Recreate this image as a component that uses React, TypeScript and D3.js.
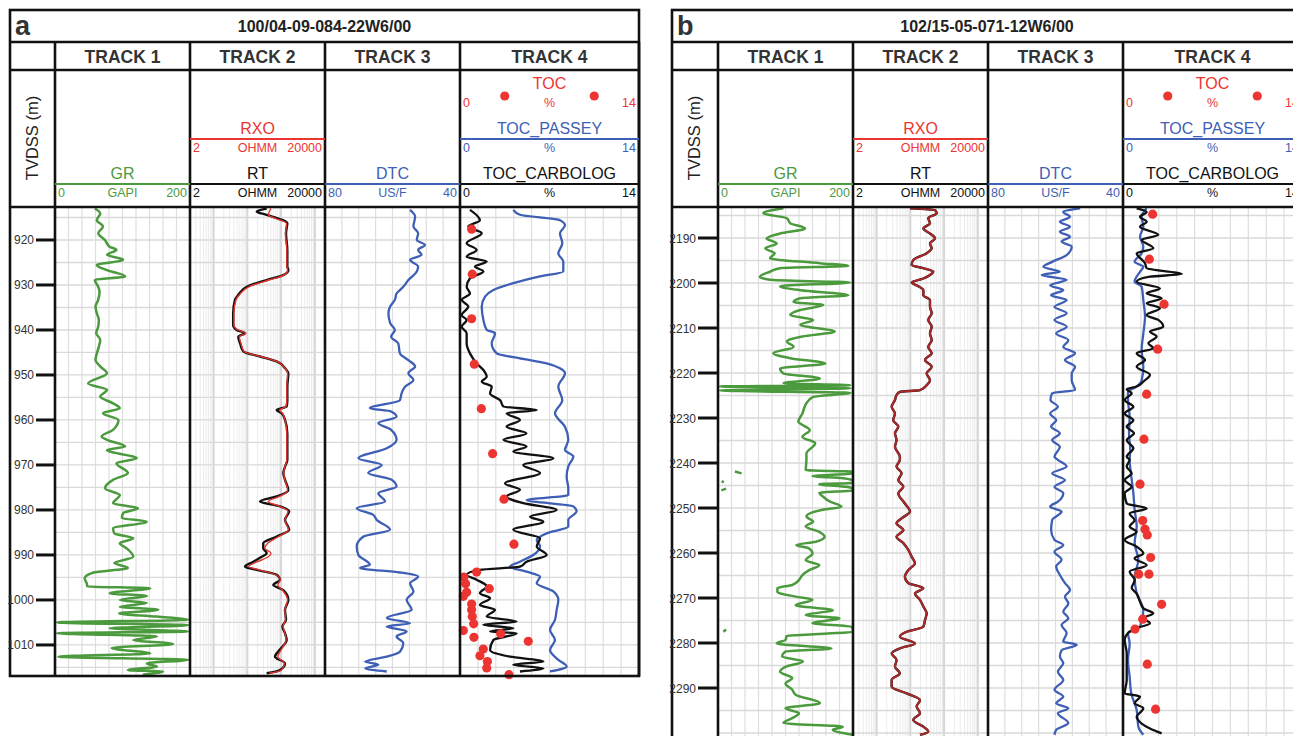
import React, { useEffect, useRef } from "react";
import * as d3 from "d3";

type Pt = [number, number];

const TRACK_NAMES = ["TRACK 1", "TRACK 2", "TRACK 3", "TRACK 4"];
const DEPTH_TICKS_A = [920, 930, 940, 950, 960, 970, 980, 990, 1000, 1010];
const DEPTH_TICKS_B = [2190, 2200, 2210, 2220, 2230, 2240, 2250, 2260, 2270, 2280, 2290];

// ---- well a : 100/04-09-084-22W6/00 ----  [depth, value]
const GR_A: Pt[] = [
  [913.0, 59], [914.1, 67], [915.6, 62], [917.0, 71], [918.5, 64], [920.0, 74], [921.5, 81], [922.2, 91],
  [923.3, 77], [924.4, 101], [925.6, 62], [926.7, 77], [928.1, 104], [928.9, 59], [930.4, 64], [931.5, 66],
  [933.3, 64], [934.8, 60], [936.3, 62], [937.8, 65], [939.3, 64], [940.7, 61], [942.2, 67], [943.7, 65],
  [945.2, 62], [946.7, 60], [948.1, 67], [949.6, 77], [951.9, 49], [953.3, 77], [954.8, 67], [956.3, 86],
  [957.4, 96], [958.5, 71], [960.0, 94], [962.2, 86], [963.7, 69], [964.4, 77], [965.9, 104], [966.7, 77],
  [968.5, 121], [969.6, 91], [971.8, 108], [973.3, 86], [975.2, 74], [976.7, 96], [978.5, 86], [979.6, 123],
  [980.7, 101], [981.8, 99], [982.6, 136], [984.1, 86], [985.2, 88], [986.3, 116], [987.4, 96], [988.5, 106],
  [990.4, 116], [991.8, 88], [992.9, 108], [993.9, 57], [995.2, 44], [996.3, 47], [997.0, 48], [997.4, 141],
  [998.5, 81], [999.1, 136], [1000.0, 96], [1000.7, 136], [1001.5, 96], [1002.2, 153], [1003.0, 95],
  [1003.7, 151], [1004.4, 197], [1005.0, 3], [1005.6, 197], [1006.3, 81], [1007.0, 197], [1007.4, 3],
  [1008.1, 151], [1008.9, 116], [1009.8, 175], [1010.7, 84], [1011.9, 141], [1012.6, 5], [1013.3, 197],
  [1014.1, 136], [1014.8, 151], [1015.6, 108], [1015.9, 160], [1016.6, 130],
];
const RT_A: Pt[] = [
  [913.0, 374], [913.7, 189], [914.4, 374], [916.3, 1530], [918.5, 1397], [922.2, 1530], [925.9, 1530],
  [926.7, 1640], [927.8, 1164], [928.9, 374], [930.4, 96], [932.2, 54], [933.3, 43], [936.3, 38], [938.9, 38],
  [940.0, 48], [940.7, 85], [941.5, 54], [943.0, 61], [944.8, 76], [945.9, 237], [947.0, 740], [948.5, 1306],
  [949.6, 1640], [952.6, 1530], [955.6, 1530], [957.0, 1460], [957.8, 740], [958.5, 1040], [960.0, 1306],
  [963.0, 1530], [968.9, 1530], [970.4, 1306], [971.8, 1164], [973.3, 1306], [975.6, 1640], [977.0, 740],
  [978.1, 237], [979.2, 928], [980.3, 1740], [982.2, 1306], [984.4, 1740], [985.9, 740], [987.4, 296],
  [988.5, 296], [989.6, 374], [990.4, 267], [991.5, 150], [992.6, 85], [993.3, 189], [994.4, 740],
  [995.5, 928], [996.7, 588], [997.8, 1164], [1000.0, 1640], [1002.2, 1306], [1004.4, 1397], [1005.9, 1100],
  [1007.4, 1306], [1008.9, 1460], [1011.1, 900], [1012.6, 660], [1014.1, 1306], [1015.6, 900], [1016.3, 374],
];
const RXO_A: Pt[] = [
  [913.0, 500], [914.4, 420], [916.3, 1450], [918.5, 1350], [922.2, 1480], [925.9, 1480], [926.7, 1560],
  [927.8, 1200], [928.9, 430], [930.4, 110], [932.2, 58], [933.3, 46], [936.3, 40], [938.9, 40], [940.0, 52],
  [940.7, 90], [941.5, 58], [943.0, 65], [944.8, 80], [945.9, 250], [947.0, 760], [948.5, 1300], [949.6, 1560],
  [952.6, 1480], [955.6, 1480], [957.0, 1400], [957.8, 900], [958.5, 1100], [960.0, 1300], [963.0, 1480],
  [968.9, 1480], [970.4, 1300], [971.8, 1200], [973.3, 1300], [975.6, 1560], [977.0, 900], [978.1, 420],
  [979.2, 900], [980.3, 1600], [982.2, 1300], [984.4, 1650], [985.9, 850], [987.4, 400], [988.5, 330],
  [989.6, 500], [990.4, 420], [991.5, 200], [992.6, 110], [993.3, 220], [994.4, 700], [995.5, 950],
  [996.7, 800], [997.8, 1100], [1000.0, 1560], [1002.2, 1300], [1004.4, 1350], [1005.9, 1150], [1007.4, 1300],
  [1008.9, 1400], [1011.1, 1000], [1012.6, 800], [1014.1, 1250], [1015.6, 1000], [1016.3, 450],
];
const DTC_A: Pt[] = [
  [913.3, 54.8], [914.8, 53.3], [917.0, 53.8], [918.5, 52.4], [920.0, 52.8], [921.1, 50.4], [922.2, 52.4],
  [923.3, 51.4], [924.4, 54.8], [925.9, 52.4], [927.0, 52.8], [928.9, 55.3], [930.4, 56.8], [931.9, 58.8],
  [933.3, 59.3], [934.8, 60.7], [936.3, 61.2], [938.5, 60.7], [940.0, 59.3], [941.5, 60.4], [943.0, 58.3],
  [945.2, 57.8], [946.7, 55.3], [948.1, 53.3], [949.6, 55.3], [951.1, 53.8], [952.6, 56.3], [954.1, 57.3],
  [955.6, 57.8], [957.4, 66.7], [958.1, 60.4], [959.3, 58.8], [960.7, 64.2], [962.2, 60.4], [964.4, 58.8],
  [966.3, 61.7], [968.5, 70.1], [970.0, 63.2], [971.8, 67.2], [973.3, 60.2], [974.8, 58.8], [976.3, 64.2],
  [978.1, 62.2], [979.6, 70.6], [981.1, 65.7], [982.2, 64.7], [984.4, 60.7], [985.9, 68.6], [988.1, 70.6],
  [990.0, 70.1], [992.2, 66.7], [992.9, 69.6], [993.9, 57.8], [994.8, 52.4], [996.3, 54.8], [998.1, 53.8],
  [1000.0, 55.8], [1002.2, 54.3], [1004.0, 61.7], [1005.2, 54.8], [1005.9, 61.7], [1007.0, 55.8],
  [1008.1, 58.8], [1009.6, 56.8], [1011.5, 57.8], [1012.6, 61.7], [1013.7, 68.1], [1014.4, 64.2],
  [1015.2, 68.1], [1015.9, 61.7],
];
const TOCC_A: Pt[] = [
  [913.3, 0.78], [915.6, 1.56], [917.0, 0.65], [918.5, 1.7], [920.7, 0.52], [922.2, 1.3], [923.7, 0.52],
  [924.8, 2.09], [925.9, 1.17], [927.0, 1.83], [928.5, 0.78], [930.4, 0.52], [931.9, 0.78], [933.3, 0.13],
  [934.8, 0.65], [936.7, 0.13], [937.8, 0.52], [939.3, 0.13], [940.7, 0.52], [943.0, 0.52], [945.2, 0.78],
  [947.4, 1.3], [948.9, 1.83], [950.4, 2.09], [951.5, 1.7], [952.6, 2.48], [954.1, 2.35], [955.6, 3.13],
  [957.0, 3.39], [957.8, 6.0], [958.5, 3.65], [960.0, 4.69], [961.5, 3.65], [963.0, 5.2], [964.4, 3.4],
  [965.9, 5.21], [967.0, 4.17], [968.5, 7.3], [970.0, 4.95], [971.8, 6.26], [974.1, 3.52], [975.5, 4.69],
  [977.0, 3.65], [978.5, 4.95], [980.0, 7.56], [981.5, 5.47], [982.6, 6.52], [984.4, 4.17], [986.3, 6.26],
  [988.1, 6.0], [990.0, 6.78], [991.5, 5.21], [992.6, 4.69], [993.3, 1.56], [994.4, 0.52], [995.5, 1.3],
  [997.0, 2.09], [998.5, 1.56], [999.6, 2.35], [1001.1, 1.56], [1002.2, 2.74], [1003.7, 2.09], [1004.8, 4.43],
  [1005.5, 1.83], [1006.3, 4.17], [1007.0, 2.35], [1007.4, 4.43], [1008.9, 2.61], [1011.1, 2.35],
  [1012.6, 3.91], [1013.7, 6.52], [1014.4, 4.17], [1015.2, 6.52], [1015.9, 4.69],
];
const TOCP_A: Pt[] = [
  [913.3, 4.17], [914.4, 4.69], [915.6, 7.82], [916.7, 8.21], [918.5, 7.82], [920.7, 8.0], [923.0, 7.69],
  [924.8, 8.08], [927.0, 8.08], [928.1, 6.26], [929.6, 4.17], [931.1, 2.61], [932.6, 1.96], [934.8, 1.7],
  [937.8, 1.83], [940.0, 2.09], [940.7, 2.74], [943.0, 2.48], [945.2, 2.87], [946.3, 4.69], [947.4, 6.78],
  [948.5, 7.82], [949.6, 8.21], [952.6, 7.69], [955.6, 8.0], [958.5, 7.43], [961.5, 8.21], [964.4, 8.47],
  [966.7, 8.21], [968.1, 8.86], [970.3, 8.47], [972.6, 8.34], [975.2, 8.47], [976.7, 8.47], [977.8, 5.21],
  [979.2, 8.86], [980.3, 9.12], [982.2, 8.47], [983.7, 8.47], [985.2, 6.78], [986.7, 6.0], [988.1, 6.26],
  [990.0, 5.73], [991.5, 4.69], [992.6, 3.91], [993.7, 5.21], [994.8, 6.26], [996.3, 6.0], [998.1, 7.3],
  [1000.0, 7.69], [1002.2, 7.56], [1004.4, 7.43], [1006.7, 7.04], [1008.9, 7.43], [1011.1, 7.04],
  [1013.3, 7.69], [1014.8, 8.34], [1015.9, 7.04],
];
const TOC_A: Pt[] = [
  [917.6, 0.91], [927.6, 0.96], [937.5, 0.91], [947.6, 1.12], [957.5, 1.67], [967.5, 2.55], [977.6, 3.44],
  [987.6, 4.22], [993.8, 1.3], [994.9, 0.31], [996.4, 0.44], [997.5, 2.29], [998.3, 0.52], [999.2, 0.26],
  [1000.9, 0.91], [1002.2, 0.91], [1003.7, 0.96], [1005.3, 1.07], [1006.8, 0.26], [1007.5, 3.18],
  [1008.3, 1.09], [1009.2, 5.34], [1010.9, 1.82], [1012.4, 1.56], [1013.7, 2.14], [1015.1, 2.09], [1016.6, 3.83],
];

// ---- well b : 102/15-05-071-12W6/00 ----
const GR_B: Pt[] = [
  [2183.4, 97], [2184.5, 67], [2185.6, 102], [2186.7, 107], [2187.9, 129], [2189.0, 92], [2190.1, 72],
  [2191.2, 87], [2192.3, 70], [2193.4, 84], [2194.5, 77], [2195.6, 151], [2196.2, 193], [2196.7, 92],
  [2197.5, 77], [2198.6, 62], [2199.3, 77], [2199.9, 196], [2200.7, 92], [2201.6, 122], [2202.7, 193],
  [2203.4, 122], [2204.2, 112], [2204.9, 156], [2206.0, 122], [2207.1, 107], [2208.2, 141], [2209.3, 122],
  [2210.8, 173], [2211.9, 125], [2213.0, 102], [2214.2, 112], [2215.6, 82], [2216.7, 107], [2217.9, 159],
  [2219.0, 92], [2220.1, 97], [2221.2, 151], [2222.3, 97], [2222.7, 196], [2223.0, 3], [2223.4, 196],
  [2223.9, 3], [2224.4, 196], [2225.3, 141], [2226.7, 131], [2229.0, 125], [2230.8, 119], [2232.7, 136],
  [2234.2, 125], [2235.6, 144], [2237.9, 131], [2239.3, 131], [2241.6, 130], [2241.9, 225], [2242.3, 235],
  [2242.9, 140], [2243.4, 185], [2243.9, 208], [2244.4, 206], [2244.7, 150], [2245.3, 190], [2245.7, 212],
  [2246.1, 205], [2246.6, 150], [2247.5, 156], [2248.6, 166], [2249.7, 183], [2250.4, 155], [2251.9, 131],
  [2253.0, 141], [2254.1, 130], [2255.3, 150], [2256.4, 158], [2257.5, 145], [2258.2, 116], [2259.0, 135],
  [2260.1, 140], [2261.6, 130], [2262.7, 150], [2263.8, 135], [2264.9, 125], [2266.0, 120], [2267.1, 110],
  [2267.8, 88], [2268.6, 88], [2269.7, 115], [2270.4, 140], [2271.6, 115], [2272.7, 170], [2273.8, 130],
  [2274.5, 180], [2275.6, 140], [2276.4, 198], [2277.0, 212], [2277.5, 208], [2278.0, 150], [2278.4, 102],
  [2279.3, 100], [2280.1, 87], [2281.2, 168], [2281.9, 100], [2283.0, 95], [2284.1, 126], [2285.3, 100],
  [2286.4, 92], [2287.8, 110], [2289.0, 100], [2290.4, 110], [2291.5, 115], [2293.4, 151], [2294.5, 100],
  [2295.6, 120], [2296.7, 110], [2297.8, 97], [2298.6, 185], [2299.3, 170], [2300.4, 205],
];
const RT_B: Pt[] = [
  [2183.4, 98], [2183.8, 538], [2184.5, 604], [2185.6, 340], [2186.7, 382], [2187.9, 243], [2189.0, 382],
  [2190.1, 538], [2191.2, 382], [2192.3, 428], [2193.4, 305], [2194.9, 122], [2196.0, 109], [2196.7, 243],
  [2197.5, 480], [2198.2, 382], [2199.0, 243], [2199.9, 109], [2200.7, 172], [2201.6, 243], [2202.7, 243],
  [2203.8, 382], [2205.3, 382], [2206.7, 428], [2208.2, 340], [2209.7, 428], [2211.2, 382], [2212.7, 428],
  [2214.2, 340], [2215.6, 428], [2217.1, 272], [2218.6, 428], [2220.1, 305], [2221.6, 382], [2222.7, 305],
  [2223.8, 193], [2224.2, 49], [2224.9, 39], [2226.0, 35], [2227.5, 28], [2229.0, 35], [2230.5, 31],
  [2231.9, 44], [2233.4, 35], [2234.9, 39], [2236.4, 35], [2238.6, 49], [2239.3, 49], [2240.8, 39],
  [2242.3, 55], [2243.8, 44], [2245.3, 62], [2246.7, 44], [2249.0, 69], [2250.8, 98], [2252.3, 55],
  [2253.4, 39], [2254.9, 62], [2256.4, 39], [2257.8, 62], [2259.3, 87], [2260.8, 109], [2262.3, 137],
  [2263.8, 87], [2265.3, 69], [2266.7, 87], [2267.8, 243], [2269.0, 137], [2270.4, 193], [2271.9, 243],
  [2273.4, 305], [2274.9, 272], [2276.4, 243], [2277.5, 78], [2278.6, 49], [2280.1, 137], [2281.2, 49],
  [2282.3, 28], [2283.8, 39], [2285.3, 35], [2286.7, 49], [2288.2, 28], [2289.7, 28], [2291.2, 78],
  [2292.7, 193], [2294.1, 154], [2295.6, 193], [2297.1, 122], [2298.6, 243], [2299.7, 340], [2300.4, 193],
];
const DTC_B: Pt[] = [
  [2183.4, 52.7], [2184.2, 57.7], [2185.3, 55.7], [2186.4, 58.7], [2187.5, 55.7], [2188.6, 58.7],
  [2189.7, 55.7], [2190.8, 58.2], [2191.9, 55.2], [2193.8, 56.7], [2195.3, 61.0], [2196.4, 63.6],
  [2197.5, 58.7], [2198.2, 64.1], [2199.3, 56.7], [2200.5, 61.6], [2201.6, 57.7], [2202.7, 61.3],
  [2203.8, 56.7], [2205.3, 60.3], [2206.7, 56.7], [2208.2, 60.3], [2209.7, 56.7], [2211.2, 59.8],
  [2212.7, 56.2], [2214.2, 57.7], [2215.6, 54.2], [2217.1, 57.2], [2218.6, 54.2], [2220.1, 55.2],
  [2221.6, 55.2], [2223.8, 54.2], [2224.5, 61.0], [2226.0, 61.5], [2227.5, 59.3], [2229.0, 61.6],
  [2230.5, 59.8], [2231.9, 61.3], [2233.4, 58.7], [2234.9, 61.0], [2236.4, 58.7], [2238.6, 60.3],
  [2239.3, 59.3], [2240.8, 56.7], [2242.3, 61.0], [2243.8, 57.2], [2245.3, 60.3], [2246.7, 57.7],
  [2248.6, 59.3], [2249.7, 61.6], [2250.8, 58.2], [2252.7, 61.0], [2254.9, 61.3], [2257.1, 60.3],
  [2258.2, 57.7], [2259.7, 60.3], [2261.5, 58.2], [2263.0, 59.8], [2264.9, 58.7], [2266.7, 57.2],
  [2268.2, 55.7], [2269.7, 57.2], [2271.2, 56.2], [2273.0, 57.7], [2274.5, 56.2], [2276.0, 58.2],
  [2277.8, 56.7], [2279.7, 57.7], [2280.4, 53.7], [2281.6, 58.2], [2283.0, 58.7], [2284.5, 57.7],
  [2286.4, 59.3], [2288.2, 57.7], [2290.4, 60.3], [2291.9, 57.7], [2293.4, 59.8], [2294.5, 56.2],
  [2295.6, 59.3], [2297.8, 56.2], [2299.3, 59.8], [2300.4, 60.3],
];
const TOCC_B: Pt[] = [
  [2183.4, 1.07], [2184.2, 1.85], [2185.3, 1.33], [2186.4, 1.85], [2187.5, 1.33], [2189.3, 2.76],
  [2190.4, 1.46], [2192.3, 2.37], [2193.4, 1.07], [2195.6, 1.72], [2196.7, 1.85], [2198.0, 4.59],
  [2198.6, 2.11], [2199.7, 1.07], [2201.2, 2.89], [2202.3, 1.85], [2203.4, 3.02], [2204.5, 1.85],
  [2205.6, 2.89], [2207.1, 1.85], [2208.2, 2.76], [2209.7, 3.15], [2210.8, 2.11], [2211.9, 2.63],
  [2213.4, 1.98], [2214.5, 2.37], [2215.6, 1.07], [2217.1, 1.72], [2218.6, 1.07], [2220.4, 2.11],
  [2221.9, 1.59], [2223.0, 1.07], [2223.6, 0.29], [2224.5, 0.68], [2226.0, 0.13], [2227.5, 0.81],
  [2229.0, 0.13], [2230.5, 0.81], [2231.9, 0.29], [2233.4, 0.86], [2234.9, 0.29], [2236.7, 0.81],
  [2238.6, 0.29], [2239.3, 0.52], [2240.8, 0.29], [2242.3, 0.68], [2243.8, 0.13], [2245.3, 0.68],
  [2246.7, 0.13], [2249.0, 0.29], [2250.1, 1.85], [2251.2, 0.52], [2252.7, 0.91], [2254.1, 0.52],
  [2255.3, 1.07], [2257.1, 0.13], [2258.6, 1.07], [2260.1, 1.59], [2261.2, 0.91], [2262.7, 1.85],
  [2264.1, 0.52], [2266.0, 0.91], [2267.8, 0.68], [2269.0, 1.07], [2270.8, 1.33], [2272.3, 1.59],
  [2273.4, 2.37], [2274.5, 1.59], [2275.6, 2.11], [2276.7, 1.07], [2277.8, 0.39], [2279.3, 0.13],
  [2282.3, 0.29], [2285.3, 0.29], [2288.2, 0.29], [2291.2, 0.13], [2291.9, 1.33], [2293.4, 0.91],
  [2294.5, 1.59], [2296.4, 1.07], [2297.9, 1.46], [2299.0, 2.11], [2300.1, 3.02],
];
const TOCP_B: Pt[] = [
  [2183.4, 1.85], [2185.3, 1.46], [2187.5, 1.59], [2189.7, 1.33], [2191.9, 1.59], [2193.4, 1.46],
  [2195.3, 0.91], [2196.4, 1.59], [2197.5, 1.33], [2199.7, 0.91], [2200.8, 1.46], [2203.8, 1.59],
  [2207.5, 1.72], [2211.2, 1.59], [2214.9, 1.46], [2218.6, 1.59], [2221.6, 1.46], [2223.0, 1.07],
  [2224.2, 0.39], [2226.0, 0.39], [2229.7, 0.52], [2233.4, 0.47], [2237.1, 0.57], [2239.3, 0.52],
  [2243.0, 0.65], [2246.7, 0.81], [2250.4, 0.91], [2254.1, 1.07], [2257.8, 0.91], [2261.5, 1.2],
  [2265.3, 0.91], [2269.0, 1.07], [2272.7, 1.59], [2276.4, 1.33], [2277.8, 0.39], [2280.1, 0.52],
  [2283.8, 0.39], [2287.5, 0.52], [2291.2, 0.65], [2294.9, 1.07], [2298.6, 1.2], [2300.4, 1.59],
];
const TOC_B: Pt[] = [
  [2184.7, 2.32], [2194.7, 2.06], [2204.7, 3.21], [2214.7, 2.71], [2224.7, 1.85], [2234.7, 1.64],
  [2244.7, 1.33], [2252.8, 1.54], [2254.7, 1.72], [2256.0, 1.9], [2261.0, 2.16], [2264.7, 1.23],
  [2264.7, 2.03], [2271.4, 3.02], [2274.7, 1.54], [2276.9, 0.94], [2284.7, 1.9], [2294.7, 2.55],
];

const W = 1293;
const H = 736;
const FONT = "'Liberation Sans', Arial, Helvetica, sans-serif";
const GREEN = "#4c9a3e";
const BLUE = "#3e5fb5";
const RED = "#ec3531";

interface Panel {
  letter: string; title: string; x0: number; depthW: number; bottom: number;
  depth: [number, number]; ticks: number[];
  gr: Pt[]; rt: Pt[]; rxo: Pt[]; rxoColor: string; dtc: Pt[]; tocc: Pt[]; tocp: Pt[]; toc: Pt[];
}

const PANELS: Panel[] = [
  { letter: "a", title: "100/04-09-084-22W6/00", x0: 10, depthW: 45, bottom: 676, depth: [912.67, 1016.9],
    ticks: DEPTH_TICKS_A, gr: GR_A, rt: RT_A, rxo: RXO_A, rxoColor: "#e3342c", dtc: DTC_A, tocc: TOCC_A, tocp: TOCP_A, toc: TOC_A },
  { letter: "b", title: "102/15-05-071-12W6/00", x0: 672, depthW: 46, bottom: 760, depth: [2183.11, 2306],
    ticks: DEPTH_TICKS_B, gr: GR_B, rt: RT_B, rxo: RT_B, rxoColor: "#a9292b", dtc: DTC_B, tocc: TOCC_B, tocp: TOCP_B, toc: TOC_B },
];

function drawPanel(svg: d3.Selection<SVGSVGElement, unknown, null, undefined>, p: Panel) {
  const g = svg.append("g");
  const top = 10, row1 = 42, row2 = 70, dataTop = 207;
  const widths = [135, 135, 135, 179];
  const lefts = [p.x0 + p.depthW];
  widths.forEach(w => lefts.push(lefts[lefts.length - 1] + w));
  const right = lefts[4];
  const tracks = widths.map((w, i) => ({ l: lefts[i], r: lefts[i + 1] }));
  const y = d3.scaleLinear().domain(p.depth).range([dataTop, p.bottom]);

  const xGR = d3.scaleLinear().domain([0, 200]).range([tracks[0].l, tracks[0].r]);
  const xRes = d3.scaleLog().domain([2, 20000]).range([tracks[1].l, tracks[1].r]);
  const xDT = d3.scaleLinear().domain([80, 40]).range([tracks[2].l, tracks[2].r]);
  const xTOC = d3.scaleLinear().domain([0, 14]).range([tracks[3].l, tracks[3].r]);

  // clip paths
  const defs = g.append("defs");
  tracks.forEach((t, i) => {
    defs.append("clipPath").attr("id", `clip-${p.letter}-${i}`)
      .append("rect").attr("x", t.l).attr("y", dataTop).attr("width", t.r - t.l).attr("height", p.bottom - dataTop);
  });

  // grid
  const grid = g.append("g");
  const vline = (x: number, color: string, w: number) =>
    grid.append("line").attr("x1", x).attr("x2", x).attr("y1", dataTop).attr("y2", p.bottom)
      .attr("stroke", color).attr("stroke-width", w);
  xGR.ticks(10).forEach(v => vline(xGR(v), "#dedede", 1.2));
  xDT.ticks(10).forEach(v => vline(xDT(v), "#dedede", 1.2));
  d3.range(0, 11).forEach(i => vline(xTOC(i * 1.4), "#dedede", 1.2));
  xRes.ticks().forEach(v => {
    const major = Math.abs(Math.log10(v) - Math.round(Math.log10(v))) < 1e-6;
    vline(xRes(v), major ? "#d6d6d6" : "#ececec", major ? 2 : 1);
  });
  const hGrid = d3.range(Math.ceil(p.depth[0] / 5) * 5, p.depth[1], 5);
  hGrid.forEach(d => {
    grid.append("line").attr("x1", tracks[0].l).attr("x2", right).attr("y1", y(d)).attr("y2", y(d))
      .attr("stroke", "#d9d9d9").attr("stroke-width", 1.3);
  });

  // curves
  const addCurve = (data: Pt[], x: (v: number) => number, color: string, w: number, ti: number) => {
    const line = d3.line<Pt>().x(d => x(d[1])).y(d => y(d[0])).curve(d3.curveMonotoneY);
    g.append("path").datum(data).attr("d", line).attr("fill", "none").attr("stroke", color)
      .attr("stroke-width", w).attr("stroke-linejoin", "round").attr("clip-path", `url(#clip-${p.letter}-${ti})`);
  };
  addCurve(p.gr, v => xGR(Math.min(v, 200)), GREEN, 2.5, 0);
  const wrap = d3.line<Pt>().defined(d => d[1] > 200).x(d => xGR(d[1] - 200)).y(d => y(d[0])).curve(d3.curveMonotoneY);
  g.append("path").datum(p.gr).attr("d", wrap).attr("fill", "none").attr("stroke", GREEN)
    .attr("stroke-width", 2.5).attr("clip-path", `url(#clip-${p.letter}-0)`);
  addCurve(p.rt, v => xRes(v), "#111", 2.4, 1);
  addCurve(p.rxo, v => xRes(v), p.rxoColor, p.letter === "a" ? 1.4 : 2.1, 1);
  addCurve(p.dtc, v => xDT(v), BLUE, 2.3, 2);
  addCurve(p.tocp, v => xTOC(v), BLUE, 2.3, 3);
  addCurve(p.tocc, v => xTOC(v), "#111", 2.3, 3);
  g.append("g").selectAll("circle").data(p.toc).join("circle")
    .attr("cx", d => xTOC(d[1])).attr("cy", d => y(d[0])).attr("r", 4.6).attr("fill", RED);

  // frame
  const frame = g.append("g").attr("stroke", "#111").attr("stroke-width", 2.6).attr("fill", "none");
  frame.append("rect").attr("x", p.x0).attr("y", top).attr("width", right - p.x0).attr("height", p.bottom - top);
  [row1, row2, dataTop].forEach(yy =>
    frame.append("line").attr("x1", p.x0).attr("x2", right).attr("y1", yy).attr("y2", yy));
  lefts.forEach(x => frame.append("line").attr("x1", x).attr("x2", x).attr("y1", row1).attr("y2", p.bottom));

  // titles
  const txt = (x: number, yy: number, s: string, size: number, color: string, anchor = "middle", weight = "normal") =>
    g.append("text").attr("x", x).attr("y", yy).attr("text-anchor", anchor).attr("font-family", FONT)
      .attr("font-size", size).attr("font-weight", weight).attr("fill", color).text(s);
  txt(p.x0 + 5, 35, p.letter, 27, "#333", "start", "bold");
  txt((p.x0 + right) / 2, 32, p.title, 16, "#222", "middle", "bold");
  tracks.forEach((t, i) => txt((t.l + t.r) / 2, 63, TRACK_NAMES[i], 17.5, "#333", "middle", "bold"));
  g.append("text").attr("transform", `translate(${p.x0 + 28},${138}) rotate(-90)`)
    .attr("text-anchor", "middle").attr("font-family", FONT).attr("font-size", 16.5).attr("fill", "#222").text("TVDSS (m)");

  // curve headers
  const header = (ti: number, name: string, color: string, lineY: number, labels: string[], drawLine = true) => {
    const t = tracks[ti];
    txt((t.l + t.r) / 2, lineY - 5, name, 16, color);
    if (drawLine)
      g.append("line").attr("x1", t.l).attr("x2", t.r).attr("y1", lineY).attr("y2", lineY)
        .attr("stroke", color).attr("stroke-width", 2);
    txt(t.l + 3, lineY + 13, labels[0], 12.5, color, "start");
    txt((t.l + t.r) / 2, lineY + 13, labels[1], 12.5, color, "middle");
    txt(t.r - 3, lineY + 13, labels[2], 12.5, color, "end");
  };
  header(0, "GR", GREEN, 184, ["0", "GAPI", "200"]);
  header(1, "RXO", RED, 139, ["2", "OHMM", "20000"]);
  header(1, "RT", "#111", 184, ["2", "OHMM", "20000"]);
  header(2, "DTC", BLUE, 184, ["80", "US/F", "40"]);
  header(3, "TOC", RED, 94, ["0", "%", "14"], false);
  header(3, "TOC_PASSEY", BLUE, 139, ["0", "%", "14"]);
  header(3, "TOC_CARBOLOG", "#111", 184, ["0", "%", "14"]);
  [0.25, 0.75].forEach(f =>
    g.append("circle").attr("cx", xTOC(14 * f)).attr("cy", 96).attr("r", 4.6).attr("fill", RED));

  // depth ticks
  p.ticks.forEach(d => {
    g.append("line").attr("x1", p.x0 + 26).attr("x2", p.x0 + p.depthW).attr("y1", y(d)).attr("y2", y(d))
      .attr("stroke", "#111").attr("stroke-width", 3);
    txt(p.x0 + 24, y(d) + 4.5, String(d), 12, "#333", "end");
  });
}

export default function App() {
  const ref = useRef<SVGSVGElement>(null);
  useEffect(() => {
    if (!ref.current) return;
    const svg = d3.select(ref.current);
    svg.selectAll("*").remove();
    svg.append("rect").attr("width", W).attr("height", H).attr("fill", "#fff");
    PANELS.forEach(p => drawPanel(svg, p));
  }, []);
  return (
    <svg ref={ref} width={W} height={H} style={{ position: "absolute", left: 0, top: 0, display: "block" }} />
  );
}
